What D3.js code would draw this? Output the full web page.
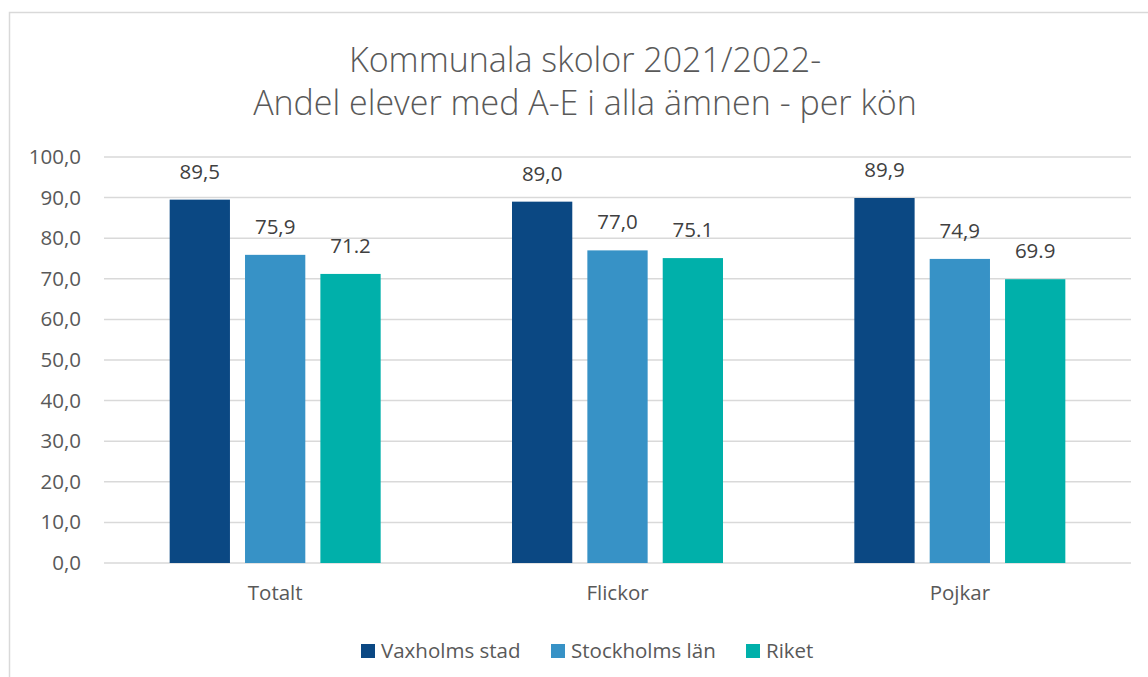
<!DOCTYPE html>
<html>
<head>
<meta charset="utf-8">
<script src="https://cdn.jsdelivr.net/npm/d3@7"></script>
<style>
  body { margin: 0; background: #fff; }
  svg { display: block; font-family: "Open Sans", "Noto Sans", sans-serif; }
</style>
</head>
<body>
<svg id="chart"></svg>
<script>
const categories = ["Totalt", "Flickor", "Pojkar"];
const series = ["Vaxholms stad", "Stockholms län", "Riket"];
const vaxholm = [89.5, 89.0, 89.9];
const stockholm = [75.9, 77.0, 74.9];
const riket = [71.2, 75.1, 69.9];
// labels as printed in the source (mixed decimal marks)
const vaxholmLabels = ["89,5", "89,0", "89,9"];
const stockholmLabels = ["75,9", "77,0", "74,9"];
const riketLabels = ["71.2", "75.1", "69.9"];
const yTicks = [0, 10, 20, 30, 40, 50, 60, 70, 80, 90, 100];
const colors = ["#0b4883", "#3792c6", "#00b0aa"];

const W = 1148, H = 677;
const margin = {top: 157, right: 17, bottom: 114, left: 104};
const width = W - margin.left - margin.right;
const height = H - margin.top - margin.bottom;
const fs = 20.5;

const svg = d3.select("#chart").attr("width", W).attr("height", H);

// chart frame
svg.append("rect")
  .attr("x", 9.5).attr("y", 12.5)
  .attr("width", 1200).attr("height", 700)
  .attr("fill", "none").attr("stroke", "#d9d9d9").attr("stroke-width", 1.5);

svg.append("text")
  .attr("x", 585).attr("y", 72)
  .attr("text-anchor", "middle")
  .attr("font-size", 34).attr("font-weight", 300).attr("fill", "#595959")
  .text("Kommunala skolor 2021/2022-");
svg.append("text")
  .attr("x", 585).attr("y", 115)
  .attr("text-anchor", "middle")
  .attr("font-size", 34).attr("font-weight", 300).attr("fill", "#595959")
  .text("Andel elever med A-E i alla ämnen - per kön");

const g = svg.append("g").attr("transform", "translate(" + margin.left + "," + margin.top + ")");

const x0 = d3.scaleBand().domain(categories).range([0, width]);
const x1 = d3.scaleBand().domain(series).range([0, 211]).paddingInner(0.2);
const y = d3.scaleLinear().domain([0, 100]).range([height, 0]);

// gridlines
g.append("g")
  .selectAll("line")
  .data(yTicks)
  .join("line")
  .attr("x1", 0).attr("x2", width)
  .attr("y1", d => y(d)).attr("y2", d => y(d))
  .attr("stroke", "#d9d9d9").attr("stroke-width", 1.5);

// y axis labels
const yAxis = g.append("g")
  .call(d3.axisLeft(y).tickValues(yTicks).tickSize(0).tickPadding(23)
    .tickFormat(d => d3.format(".1f")(d).replace(".", ",")));
yAxis.select(".domain").remove();
yAxis.selectAll("text").attr("font-size", fs).attr("fill", "#595959")
  .attr("font-family", "'Open Sans', sans-serif");

const rows = categories.map((c, i) => ({
  cat: c,
  vals: [
    {s: series[0], v: vaxholm[i], lab: vaxholmLabels[i]},
    {s: series[1], v: stockholm[i], lab: stockholmLabels[i]},
    {s: series[2], v: riket[i], lab: riketLabels[i]}
  ]
}));

const groups = g.selectAll(".grp")
  .data(rows)
  .join("g")
  .attr("class", "grp")
  .attr("transform", d => "translate(" + (x0(d.cat) + (x0.bandwidth() - 211) / 2) + ",0)");

groups.selectAll("rect")
  .data(d => d.vals)
  .join("rect")
  .attr("x", d => x1(d.s))
  .attr("width", x1.bandwidth())
  .attr("y", d => y(d.v))
  .attr("height", d => y(0) - y(d.v))
  .attr("fill", (d, i) => colors[i]);

groups.selectAll("text")
  .data(d => d.vals)
  .join("text")
  .attr("x", d => x1(d.s) + x1.bandwidth() / 2)
  .attr("y", d => y(d.v) - 21)
  .attr("text-anchor", "middle")
  .attr("font-size", fs).attr("fill", "#404040")
  .text(d => d.lab);

// x axis labels
const xAxis = g.append("g")
  .attr("transform", "translate(0," + height + ")")
  .call(d3.axisBottom(x0).tickSize(0).tickPadding(22.5));
xAxis.select(".domain").remove();
xAxis.selectAll("text").attr("font-size", fs).attr("fill", "#595959")
  .attr("font-family", "'Open Sans', sans-serif");

// legend
const legendX = [361, 551, 746];
const legend = svg.append("g").selectAll("g")
  .data(series)
  .join("g")
  .attr("transform", (d, i) => "translate(" + legendX[i] + ",644)");
legend.append("rect")
  .attr("width", 14).attr("height", 14)
  .attr("fill", (d, i) => colors[i]);
legend.append("text")
  .attr("x", 20).attr("y", 14)
  .attr("font-size", fs).attr("fill", "#595959")
  .text(d => d);
</script>
</body>
</html>
